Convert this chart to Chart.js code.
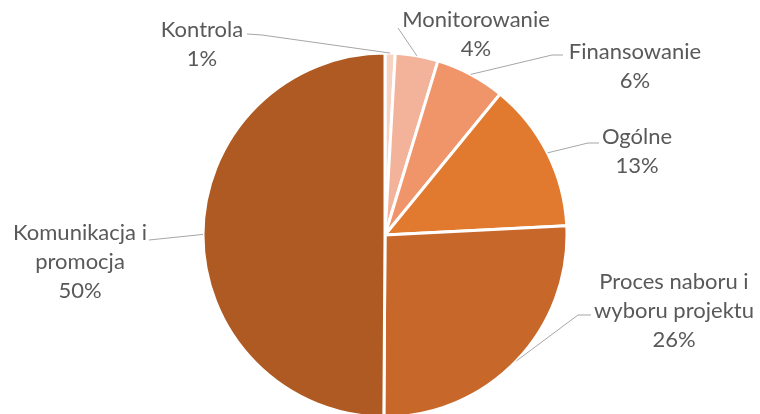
<!DOCTYPE html>
<html>
<head>
<meta charset="utf-8">
<script src="https://cdn.jsdelivr.net/npm/chart.js@4.4.1/dist/chart.umd.min.js"></script>
<style>
  html, body { margin: 0; padding: 0; background: #fff; overflow: hidden; }
</style>
</head>
<body>
<canvas id="chart" width="760" height="414"></canvas>
<script>
// 分類と割合(%)
const categories = [
  "Kontrola",
  "Monitorowanie",
  "Finansowanie",
  "Ogólne",
  "Proces naboru i wyboru projektu",
  "Komunikacja i promocja",
];
const shares = [0.9, 3.8, 6.2, 13.3, 25.9, 49.9];
const labelLines = [
  ["Kontrola"],
  ["Monitorowanie"],
  ["Finansowanie"],
  ["Ogólne"],
  ["Proces naboru i", "wyboru projektu"],
  ["Komunikacja i", "promocja"],
];

const sliceColors = ["#F7D3C4", "#F3B39A", "#F0956A", "#E1792F", "#C8672A", "#AE5A22"];

// ラベルの位置 (円の中心からの相対座標)
const labelPlacement = [
  { cx: -183, cy: -205, from: [-138, -201], elbow: [-123, -200] },
  { cx: 91, cy: -215, from: [13, -207], elbow: null },
  { cx: 250, cy: -183, from: [178, -180], elbow: [167, -180] },
  { cx: 252, cy: -98, from: [214, -92], elbow: [203, -92] },
  { cx: 289, cy: 47, from: [206, 80], elbow: [193, 80] },
  { cx: -305, cy: -2, from: [-236, 5], elbow: null },
];

const labelFont = "22px Lato";
const lineHeight = 29;

const outsideLabels = {
  id: "outsideLabels",
  afterDatasetsDraw(chart) {
    const ctx = chart.ctx;
    const arcs = chart.getDatasetMeta(0).data;
    const total = shares.reduce((a, b) => a + b, 0);

    ctx.save();
    arcs.forEach((arc, i) => {
      const { x, y, startAngle, endAngle, outerRadius } = arc.getProps(
        ["x", "y", "startAngle", "endAngle", "outerRadius"], true
      );
      const mid = (startAngle + endAngle) / 2;
      const place = labelPlacement[i];

      // 引き出し線
      ctx.strokeStyle = "#A6A6A6";
      ctx.lineWidth = 1;
      ctx.beginPath();
      ctx.moveTo(x + place.from[0], y + place.from[1]);
      if (place.elbow) {
        ctx.lineTo(x + place.elbow[0], y + place.elbow[1]);
      }
      ctx.lineTo(x + Math.cos(mid) * outerRadius, y + Math.sin(mid) * outerRadius);
      ctx.stroke();

      // テキスト
      const pct = Math.round(shares[i] / total * 100) + "%";
      const lines = labelLines[i].concat([pct]);
      ctx.font = labelFont;
      ctx.fillStyle = "#595959";
      ctx.textAlign = "center";
      ctx.textBaseline = "middle";
      lines.forEach((line, k) => {
        ctx.fillText(line, x + place.cx, y + place.cy + k * lineHeight);
      });
    });
    ctx.restore();
  },
};

new Chart(document.getElementById("chart"), {
  type: "pie",
  data: {
    labels: categories,
    datasets: [{
      data: shares,
      backgroundColor: sliceColors,
      borderColor: "#FFFFFF",
      borderWidth: 3,
      radius: 182,
      clip: false,
    }],
  },
  options: {
    responsive: false,
    animation: false,
    devicePixelRatio: 1,
    layout: { padding: { left: 10, right: 0, top: 56, bottom: 0 } },
    plugins: {
      legend: { display: false },
      tooltip: { enabled: false },
    },
  },
  plugins: [outsideLabels],
});
</script>
</body>
</html>
